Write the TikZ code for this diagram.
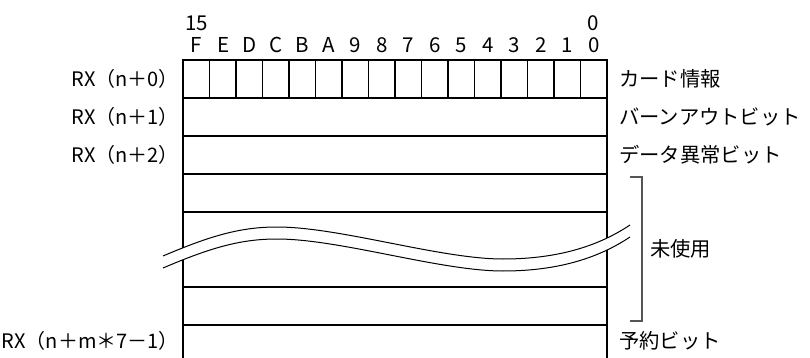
\documentclass[tikz,border=0pt]{standalone}
\usepackage{fontspec}
\setmainfont{Noto Sans CJK JP}
\usepackage{tikz}
\usetikzlibrary{positioning,calc}
\definecolor{RegGray}{HTML}{555555}
\tikzset{
  bitlabel/.style={font=\fontsize{20.5}{20.5}\selectfont,inner sep=0pt},
  reglabel/.style={font=\fontsize{20}{20}\selectfont,inner sep=0pt,anchor=east},
  desclabel/.style={font=\fontsize{20.3}{20.3}\selectfont,inner sep=0pt,anchor=west},
  rowline/.style={line width=1.1pt},
  border/.style={line width=2.2pt},
}
\begin{document}
\begin{tikzpicture}[x=1pt,y=-1pt]
  \useasboundingbox (0,0) rectangle (810,358);
  % Bit numbers
  \node[bitlabel] (hi) at (196.6,23) {15};
  \node[bitlabel] (lo) at (593.4,23) {0};
  \foreach \b [count=\i from 0] in {F,E,D,C,B,A,9,8,7,6,5,4,3,2,1,0}
    \node[bitlabel] (bit\i) at (196.6+26.5*\i,45) {\b};
  % Cells of the first word
  \foreach \i in {1,...,15}
    \draw[rowline] (183+26.5*\i,60) -- (183+26.5*\i,98);
  % Row lines
  \foreach \y in {98,136,174,212,287,325}
    \draw[rowline] (183,\y) -- (607,\y);
  % Outer border
  \draw[border] (183,358) -- (183,60) -- (607,60) -- (607,358);
  % Break mark
  \fill[white] (163,256) .. controls (210,236) and (240,227) .. (277,227)
    .. controls (340,227) and (440,259) .. (503,259)
    .. controls (560,259) and (600,245) .. (630,225)
    -- (630,237) .. controls (600,257) and (560,271) .. (503,271)
    .. controls (440,271) and (340,239) .. (277,239)
    .. controls (240,239) and (210,248) .. (163,268) -- cycle;
  \foreach \d in {0,12}
    \draw[line width=1pt] (163,256+\d) .. controls (210,236+\d) and (240,227+\d) .. (277,227+\d)
      .. controls (340,227+\d) and (440,259+\d) .. (503,259+\d)
      .. controls (560,259+\d) and (600,245+\d) .. (630,225+\d);
  % Register names
  \node[reglabel] (rx0) at (179,79) {RX（n＋0）};
  \node[reglabel] (rx1) at (179,117) {RX（n＋1）};
  \node[reglabel] (rx2) at (179,155) {RX（n＋2）};
  \node[reglabel] (rxm) at (179,341) {RX（n＋m＊7－1）};
  % Descriptions
  \node[desclabel] (card) at (619,79) {カード情報};
  \node[desclabel] (burn) at (619,117) {バーンアウトビット};
  \node[desclabel] (err) at (619,155) {データ異常ビット};
  \node[desclabel] (unused) at (650,249) {未使用};
  \node[desclabel] (resv) at (619,341) {予約ビット};
  % Bracket for unused rows
  \draw[RegGray,line width=1.1pt] (630,177) -- (642,177) -- (642,321) -- (630,321);
\end{tikzpicture}
\end{document}
